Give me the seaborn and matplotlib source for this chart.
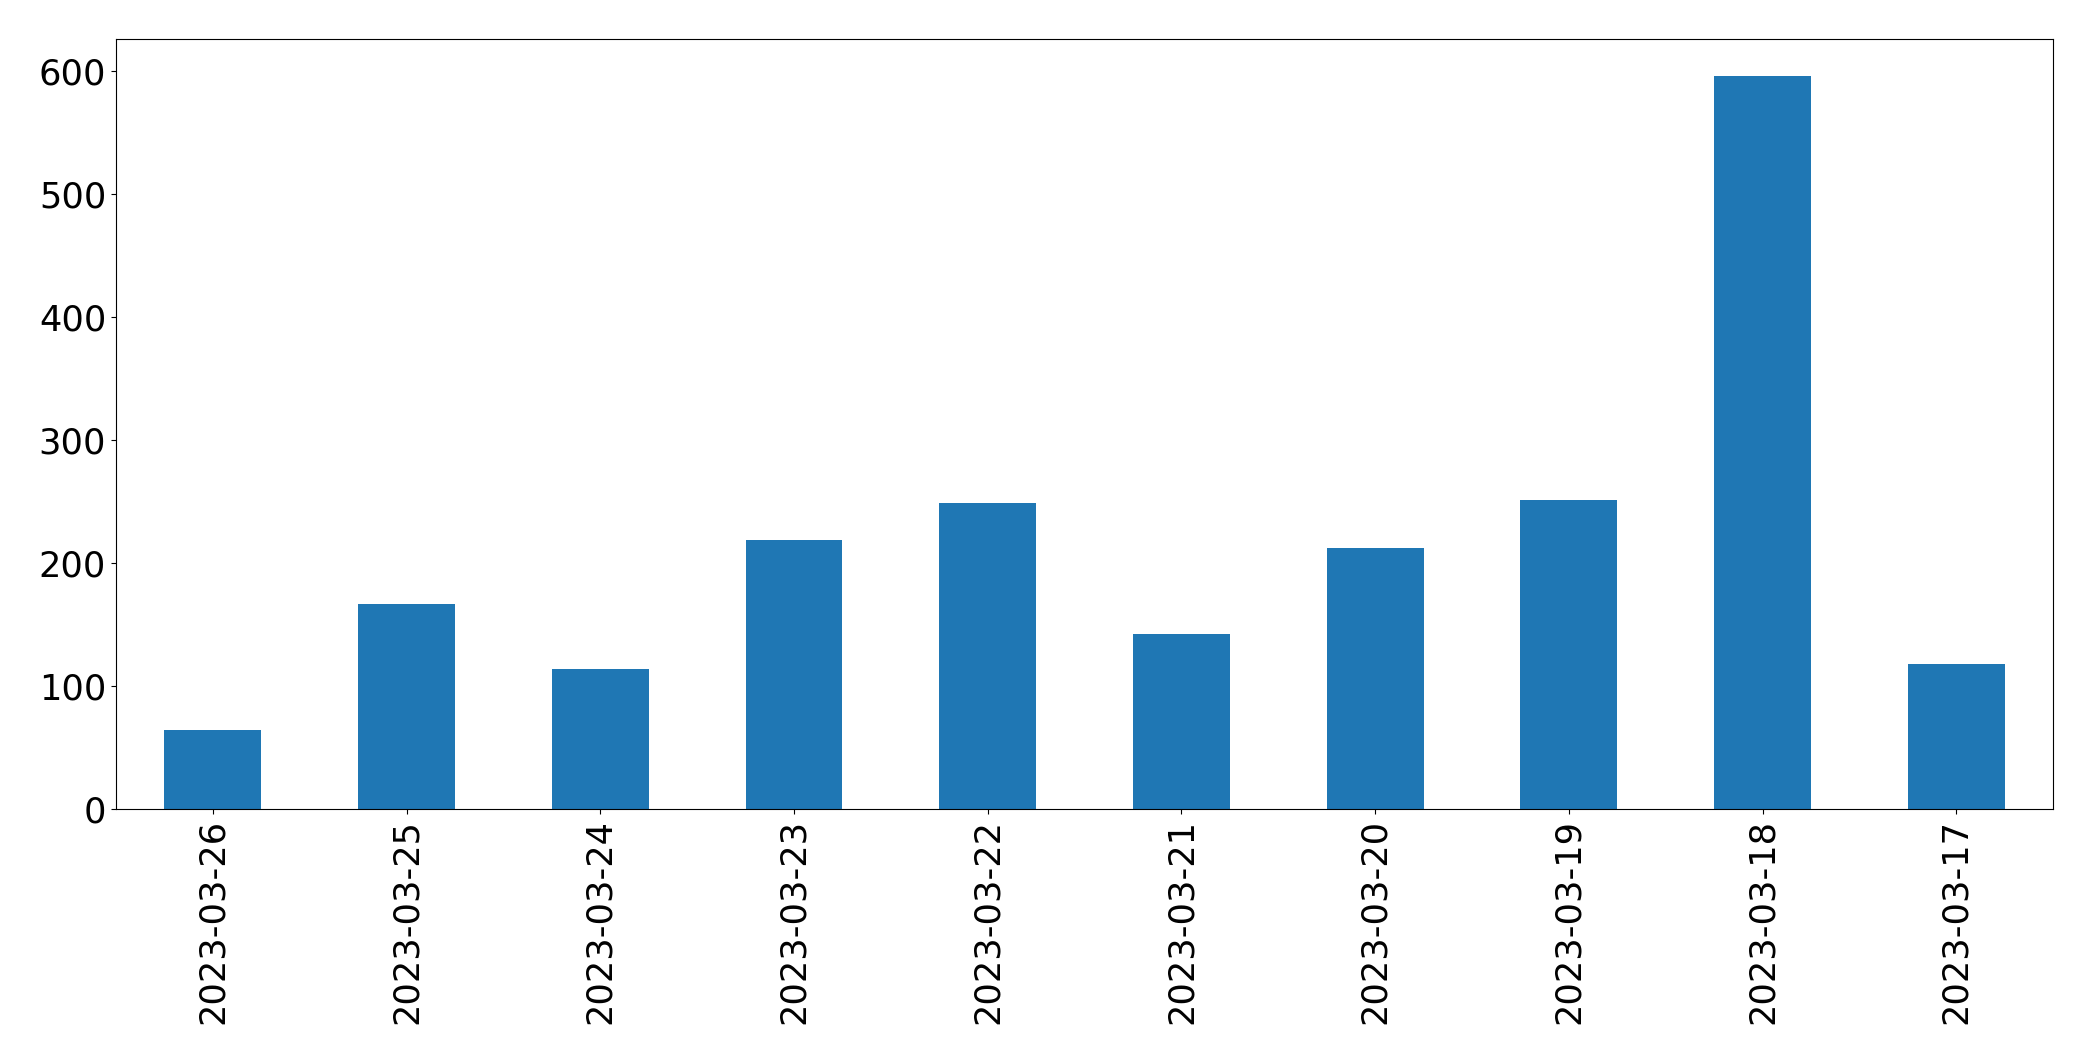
import pandas as pd
import numpy as np
import matplotlib
matplotlib.use("Agg")
import matplotlib.pyplot as plt
import seaborn as sns

# daily counts, newest first
dates = ['2023-03-26', '2023-03-25', '2023-03-24', '2023-03-23', '2023-03-22',
         '2023-03-21', '2023-03-20', '2023-03-19', '2023-03-18', '2023-03-17']
counts = [64, 167, 114, 219, 249, 142, 212, 251, 596, 118]

df = pd.DataFrame({'date': dates, 'count': counts})

fig, ax = plt.subplots(figsize=(20.93, 10.61), dpi=100)
sns.barplot(
    x='date',
    y='count',
    data=df,
    order=dates,
    color='#1f77b4',
    saturation=1,
    width=0.5,
    linewidth=0,
    ax=ax
)
ax.set_xlim(-0.5, 9.5)
ax.set_ylim(0, 626)
ax.set_xlabel('')
ax.set_ylabel('')
ax.tick_params(axis='both', labelsize=25.3)
plt.setp(ax.get_xticklabels(), rotation=90)
plt.subplots_adjust(left=0.0554, right=0.981, top=0.963, bottom=0.2375)
plt.savefig('out.png')
